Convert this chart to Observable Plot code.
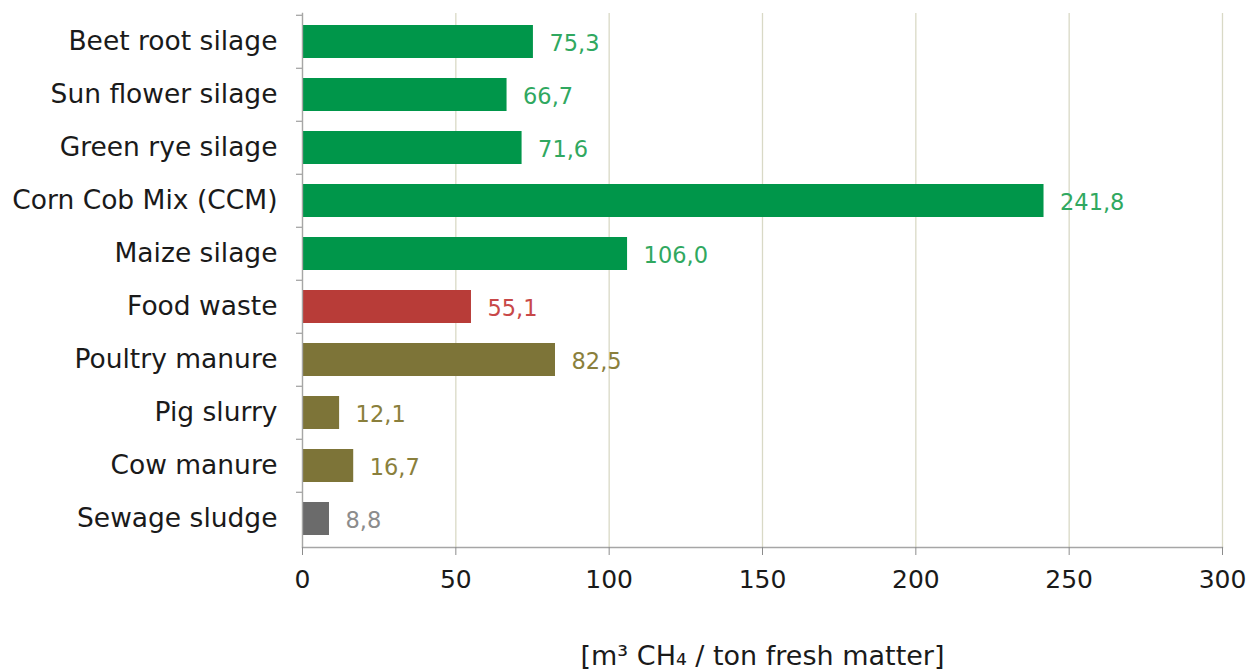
<!DOCTYPE html>
<html>
<head>
<meta charset="utf-8">
<script src="https://cdn.jsdelivr.net/npm/d3@7"></script>
<script src="https://cdn.jsdelivr.net/npm/@observablehq/plot@0.6"></script>
<style>
  html, body { margin: 0; padding: 0; background: #fff; }
  #chart svg { display: block; }
</style>
</head>
<body>
<div id="chart"></div>
<script>
const categories = ["Beet root silage", "Sun flower silage", "Green rye silage", "Corn Cob Mix (CCM)", "Maize silage", "Food waste", "Poultry manure", "Pig slurry", "Cow manure", "Sewage sludge"];
const values = [75.3, 66.7, 71.6, 241.8, 106.0, 55.1, 82.5, 12.1, 16.7, 8.8];
const groups = ["crop", "crop", "crop", "crop", "crop", "waste", "manure", "manure", "manure", "sludge"];
const xTicks = [0, 50, 100, 150, 200, 250, 300];
const xLabel = "[m³ CH₄ / ton fresh matter]";

const groupNames = ["crop", "waste", "manure", "sludge"];
const barColors = ["#00964a", "#b83c38", "#7d7438", "#6b6b6b"];
const textColors = ["#30a860", "#c84848", "#8a7f3c", "#8c8c8c"];

const data = categories.map((c, i) => ({category: c, value: values[i], group: groups[i]}));
const fmt = v => v.toFixed(1).replace(".", ",");
const barColor = g => barColors[groupNames.indexOf(g)];
const textColor = g => textColors[groupNames.indexOf(g)];

const W = 1258, H = 670, mt = 13, mb = 123, ml = 302, mr = 36;
const step = (H - mt - mb) / categories.length;

const chart = Plot.plot({
  width: W,
  height: H,
  marginTop: mt,
  marginBottom: mb,
  marginLeft: ml,
  marginRight: mr,
  style: {fontFamily: "'DejaVu Sans', Verdana, sans-serif", background: "#fff", color: "#1a1a1a"},
  x: {domain: [0, 300]},
  y: {domain: categories, paddingInner: 0.38, paddingOuter: 0.19},
  marks: [
    Plot.gridX(xTicks, {stroke: "#d9d9c6", strokeOpacity: 1, strokeWidth: 1.3}),
    Plot.barX(data, {x: "value", y: "category", fill: d => barColor(d.group)}),
    Plot.text(data, {x: "value", y: "category", text: d => fmt(d.value), fill: d => textColor(d.group), textAnchor: "start", dx: 16, fontSize: 22.5, dy: 2}),
    Plot.ruleY(categories, {y: d => d, x1: 0, x2: 0, insetLeft: -6, dy: -step / 2, stroke: "#a6a6a6", strokeWidth: 1.3}),
    Plot.frame({anchor: "left", stroke: "#a6a6a6", strokeWidth: 1.3}),
    Plot.frame({anchor: "bottom", stroke: "#a6a6a6", strokeWidth: 1.3}),
    Plot.axisY({tickSize: 0, tickPadding: 25, fontSize: 26.5, label: null}),
    Plot.axisX(xTicks, {tickSize: 8, tickPadding: 15, fontSize: 25, stroke: "#8c8c8c", label: null}),
    Plot.axisX({ticks: [], tickSize: 0, label: xLabel, labelAnchor: "center", labelArrow: "none", labelOffset: 117, fontSize: 27})
  ]
});
document.getElementById("chart").append(chart);
</script>
</body>
</html>
